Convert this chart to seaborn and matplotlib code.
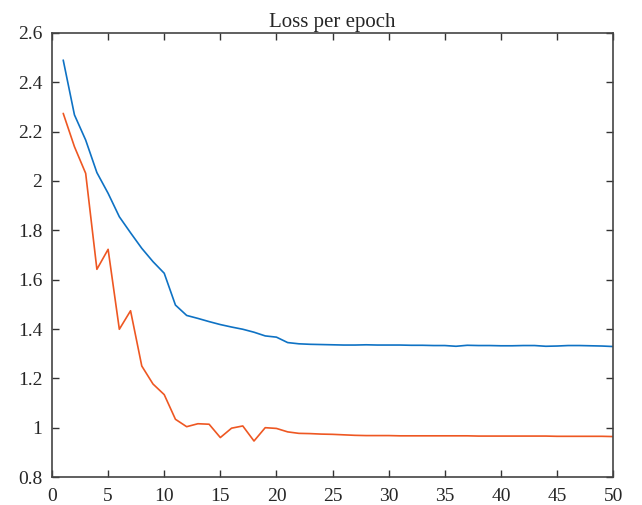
import numpy as np
import pandas as pd
import matplotlib
matplotlib.use("Agg")
import matplotlib.pyplot as plt
import seaborn as sns

# values
epochs = list(range(1, 51))
loss_a = [2.490, 2.268, 2.166, 2.034, 1.950, 1.855, 1.790, 1.727, 1.673, 1.626,
          1.497, 1.455, 1.443, 1.430, 1.418, 1.408, 1.399, 1.387, 1.372, 1.367,
          1.345, 1.340, 1.338, 1.337, 1.336, 1.335, 1.335, 1.336, 1.335, 1.335,
          1.335, 1.334, 1.334, 1.333, 1.333, 1.330, 1.334, 1.333, 1.333, 1.332,
          1.332, 1.333, 1.333, 1.330, 1.331, 1.333, 1.333, 1.332, 1.331, 1.329]
loss_b = [2.274, 2.139, 2.031, 1.642, 1.723, 1.399, 1.474, 1.250, 1.177, 1.134,
          1.034, 1.004, 1.016, 1.014, 0.960, 0.998, 1.007, 0.946, 1.000, 0.997,
          0.983, 0.977, 0.976, 0.974, 0.973, 0.971, 0.969, 0.968, 0.968, 0.968,
          0.967, 0.967, 0.967, 0.967, 0.967, 0.967, 0.967, 0.966, 0.966, 0.966,
          0.966, 0.966, 0.966, 0.966, 0.965, 0.965, 0.965, 0.965, 0.965, 0.964]

x_ticks = list(range(0, 51, 5))
y_ticks = [0.8, 1.0, 1.2, 1.4, 1.6, 1.8, 2.0, 2.2, 2.4, 2.6]
y_labels = ["0.8", "1", "1.2", "1.4", "1.6", "1.8", "2", "2.2", "2.4", "2.6"]

sns.set_style("ticks")
plt.rcParams['font.family'] = ['Liberation Serif', 'DejaVu Serif']
plt.rcParams['xtick.direction'] = 'in'
plt.rcParams['ytick.direction'] = 'in'

df = pd.DataFrame({"epoch": epochs, "a": loss_a, "b": loss_b})

fig = plt.figure(figsize=(6.42, 5.05), dpi=100)
ax = fig.add_axes([0.081, 0.0554, 0.874, 0.8793])
sns.lineplot(data=df, x="epoch", y="a", color="#0E72C4", linewidth=1.2, ax=ax)
sns.lineplot(data=df, x="epoch", y="b", color="#EE5722", linewidth=1.2, ax=ax)

ax.set_xlim(0, 50)
ax.set_ylim(0.8, 2.6)
ax.set_xticks(x_ticks)
ax.set_yticks(y_ticks)
ax.set_yticklabels(y_labels)
ax.set_xlabel("")
ax.set_ylabel("")
ax.set_title("Loss per epoch", fontsize=15, pad=4)
ax.tick_params(axis='both', labelsize=14, length=5, width=1, color="#333333",
               top=True, right=True)
ax.tick_params(axis='y', pad=7)
ax.tick_params(axis='x', pad=8)
for s in ax.spines.values():
    s.set_visible(True)
    s.set_color("#444444")
    s.set_linewidth(1.2)

fig.savefig("out.png", dpi=100)
